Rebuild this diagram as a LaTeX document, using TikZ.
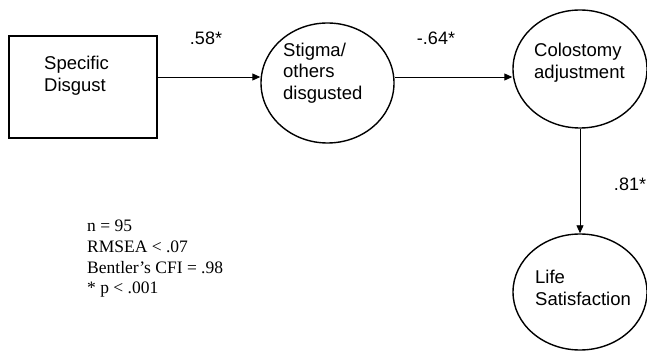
\documentclass[tikz,border=0pt]{standalone}
\usepackage{fontspec}
\setmainfont{Liberation Sans}
\newfontfamily\statfont{Liberation Serif}
\usetikzlibrary{shapes.geometric,arrows.meta}
\begin{document}
\begin{tikzpicture}[x=1pt,y=1pt,
  boxshape/.style={draw,line width=2.2pt,minimum width=148pt,minimum height=102pt,inner sep=0pt},
  ellshape/.style={draw,ellipse,line width=1.4pt,minimum width=133pt,minimum height=120pt,inner sep=0pt},
  intext/.style={anchor=west,align=left,inner sep=0pt,font=\fontsize{18.5}{21.7}\selectfont},
  coef/.style={inner sep=0pt,font=\fontsize{18}{21}\selectfont},
  arr/.style={line width=0.9pt,-{Triangle[length=8pt,width=7pt]}}]
\useasboundingbox (0,0) rectangle (647,353);
\node[boxshape] (sd) at (83,266) {};
\node[ellshape] (st) at (327.5,270) {};
\node[ellshape,minimum width=134pt,minimum height=118pt] (co) at (580,284) {};
\node[ellshape,minimum width=134pt,minimum height=116pt] (ls) at (580,61) {};
\node[intext] (sdt) at (44,277) {Specific\\Disgust};
\node[intext] (stt) at (283,280) {Stigma/\\others\\disgusted};
\node[intext] (cot) at (534,290.5) {Colostomy\\adjustment};
\node[intext] (lst) at (535,65) {Life\\Satisfaction};
\draw[arr] ([yshift=10pt]sd.east) -- ([yshift=6pt]st.west);
\draw[arr] ([yshift=6pt]st.east) -- ([yshift=-8pt]co.west);
\draw[arr] (co.south) -- (ls.north);
\node[coef] (c1) at (206,315) {.58*};
\node[coef] (c2) at (436,315) {-.64*};
\node[coef] (c3) at (630,169) {.81*};
\node[anchor=west,align=left,inner sep=0pt,font=\statfont\fontsize{17.5}{20.7}\selectfont] (stats) at (87,94) {n = 95\\RMSEA < .07\\Bentler’s CFI = .98\\* p < .001};
\end{tikzpicture}
\end{document}
